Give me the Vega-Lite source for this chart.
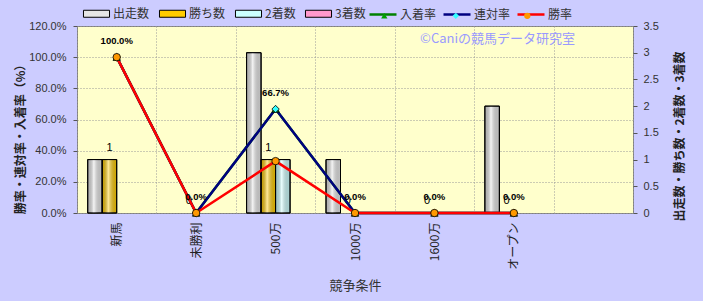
{
  "$schema": "https://vega.github.io/schema/vega-lite/v6.json",
  "width": 556,
  "height": 187,
  "autosize": {"type": "none"},
  "padding": {"left": 77, "top": 26, "right": 70, "bottom": 88},
  "background": "#CCCCFF",
  "config": {
    "font": "Noto Sans CJK JP",
    "view": {"fill": "#FFFFCC", "stroke": "#808080", "strokeWidth": 1},
    "axis": {"labelFont": "Liberation Sans", "labelFontSize": 11, "labelColor": "#333333", "titleColor": "#333333", "tickColor": "#555555", "gridColor": "#999999", "gridDash": [1, 2], "gridWidth": 1},
    "legend": {"labelFont": "Noto Sans CJK JP", "labelFontSize": 12, "labelColor": "#333333"}
  },
  "title": {"text": "©Caniの競馬データ研究室", "anchor": "end", "frame": "group", "orient": "top", "offset": 0, "dx": -58, "dy": 52, "fontSize": 13, "fontWeight": "normal", "color": "#9999FF", "baseline": "middle", "font": "Noto Sans CJK JP"},
  "datasets": {
    "counts": [
      {"cat": "新馬", "series": "出走数", "n": 1},
      {"cat": "新馬", "series": "勝ち数", "n": 1},
      {"cat": "新馬", "series": "2着数", "n": 0},
      {"cat": "新馬", "series": "3着数", "n": 0},
      {"cat": "未勝利", "series": "出走数", "n": 0},
      {"cat": "未勝利", "series": "勝ち数", "n": 0},
      {"cat": "未勝利", "series": "2着数", "n": 0},
      {"cat": "未勝利", "series": "3着数", "n": 0},
      {"cat": "500万", "series": "出走数", "n": 3},
      {"cat": "500万", "series": "勝ち数", "n": 1},
      {"cat": "500万", "series": "2着数", "n": 1},
      {"cat": "500万", "series": "3着数", "n": 0},
      {"cat": "1000万", "series": "出走数", "n": 1},
      {"cat": "1000万", "series": "勝ち数", "n": 0},
      {"cat": "1000万", "series": "2着数", "n": 0},
      {"cat": "1000万", "series": "3着数", "n": 0},
      {"cat": "1600万", "series": "出走数", "n": 0},
      {"cat": "1600万", "series": "勝ち数", "n": 0},
      {"cat": "1600万", "series": "2着数", "n": 0},
      {"cat": "1600万", "series": "3着数", "n": 0},
      {"cat": "オープン", "series": "出走数", "n": 2},
      {"cat": "オープン", "series": "勝ち数", "n": 0},
      {"cat": "オープン", "series": "2着数", "n": 0},
      {"cat": "オープン", "series": "3着数", "n": 0}
    ],
    "rates": [
      {"cat": "新馬", "series": "入着率", "rate": 1.0},
      {"cat": "未勝利", "series": "入着率", "rate": 0.0},
      {"cat": "500万", "series": "入着率", "rate": 0.667},
      {"cat": "1000万", "series": "入着率", "rate": 0.0},
      {"cat": "1600万", "series": "入着率", "rate": 0.0},
      {"cat": "オープン", "series": "入着率", "rate": 0.0},
      {"cat": "新馬", "series": "連対率", "rate": 1.0},
      {"cat": "未勝利", "series": "連対率", "rate": 0.0},
      {"cat": "500万", "series": "連対率", "rate": 0.667},
      {"cat": "1000万", "series": "連対率", "rate": 0.0},
      {"cat": "1600万", "series": "連対率", "rate": 0.0},
      {"cat": "オープン", "series": "連対率", "rate": 0.0},
      {"cat": "新馬", "series": "勝率", "rate": 1.0},
      {"cat": "未勝利", "series": "勝率", "rate": 0.0},
      {"cat": "500万", "series": "勝率", "rate": 0.333},
      {"cat": "1000万", "series": "勝率", "rate": 0.0},
      {"cat": "1600万", "series": "勝率", "rate": 0.0},
      {"cat": "オープン", "series": "勝率", "rate": 0.0}
    ]
  },
  "layer": [
    {
      "data": {"name": "counts"},
      "encoding": {
        "x": {"field": "cat", "type": "nominal", "scale": {"domain": ["新馬", "未勝利", "500万", "1000万", "1600万", "オープン", " "], "paddingInner": 0, "paddingOuter": 0},
          "axis": {"title": "競争条件", "titleFontSize": 13, "titleFontWeight": "normal", "titleY": 72, "titleBaseline": "middle", "labelAngle": -90, "labelFont": "Noto Sans CJK JP", "labelFontSize": 12, "labelColor": "#222222", "labelPadding": 9, "ticks": false, "domain": false, "grid": true, "tickBand": "extent"}},
        "xOffset": {"field": "series", "type": "nominal", "scale": {"domain": ["出走数", "勝ち数", "2着数", "3着数"], "paddingOuter": 0.74, "paddingInner": 0}},
        "y": {"field": "n", "type": "quantitative", "scale": {"domain": [0, 3.5], "nice": false},
          "axis": {"orient": "right", "values": [0, 0.5, 1, 1.5, 2, 2.5, 3, 3.5], "format": "~g", "grid": false, "domain": false, "tickSize": 4, "labelPadding": 6,
            "title": "出走数・勝ち数・2着数・3着数", "titleAngle": -90, "titleX": 46, "titleY": 110, "titleAlign": "center", "titleBaseline": "middle", "titleFontSize": 12, "titleFontWeight": "bold", "titleColor": "#222222"}}
      },
      "layer": [
        {
          "transform": [{"filter": "datum.n > 0"}],
          "mark": {"type": "bar", "stroke": "#000000", "strokeWidth": 1},
          "encoding": {
            "color": {"field": "series", "type": "nominal",
              "scale": {"domain": ["出走数", "勝ち数", "2着数", "3着数"], "range": ["#E6E6E6", "#FFCC00", "#CCFFFF", "#FF99CC"]},
              "legend": {"title": null, "orient": "none", "direction": "horizontal", "legendX": 12, "legendY": -20, "symbolType": "M-1.86,-0.5H1.86V0.5H-1.86Z", "symbolSize": 196, "symbolStrokeColor": "#000000", "symbolStrokeWidth": 1, "symbolOpacity": 1, "labelOffset": 9, "columnPadding": 7}}
          }
        },
        {
          "transform": [{"filter": "datum.n > 0"}],
          "mark": {"type": "bar", "stroke": "#000000", "strokeWidth": 1,
            "fill": {"gradient": "linear", "x1": 0, "y1": 0, "x2": 1, "y2": 0, "stops": [
              {"offset": 0, "color": "rgba(0,0,0,0.2)"},
              {"offset": 0.42, "color": "rgba(255,255,255,0.6)"},
              {"offset": 1, "color": "rgba(0,0,0,0.15)"}]}}
        },
        {
          "transform": [{"filter": "datum.series === '勝ち数'"}],
          "mark": {"type": "text", "font": "Liberation Sans", "fontSize": 11, "color": "#000000", "baseline": "middle", "dy": -12},
          "encoding": {"text": {"field": "n", "type": "quantitative", "format": "d"}}
        }
      ]
    },
    {
      "data": {"name": "rates"},
      "encoding": {
        "x": {"field": "cat", "type": "nominal", "scale": {"domain": ["新馬", "未勝利", "500万", "1000万", "1600万", "オープン", " "], "paddingInner": 0, "paddingOuter": 0}},
        "y": {"field": "rate", "type": "quantitative", "scale": {"domain": [0, 1.2], "nice": false},
          "axis": {"orient": "left", "values": [0, 0.2, 0.4, 0.6, 0.8, 1.0, 1.2], "format": ".1%", "grid": true, "domain": false, "tickSize": 4, "labelPadding": 7,
            "title": "勝率・連対率・入着率（%）", "titleAngle": -90, "titleX": -57, "titleY": 110, "titleAlign": "center", "titleBaseline": "middle", "titleFontSize": 12, "titleFontWeight": "bold", "titleColor": "#222222"}}
      },
      "layer": [
        {
          "mark": {"type": "line", "strokeWidth": 2.5},
          "encoding": {
            "order": {"value": null},
            "stroke": {"field": "series", "type": "nominal", "sort": ["入着率", "連対率", "勝率"],
              "scale": {"range": ["#008000", "#000080", "#FF0000"]},
              "legend": {"title": null, "orient": "none", "direction": "horizontal", "legendX": 291, "legendY": -26.5, "symbolType": "stroke", "symbolSize": 729, "symbolStrokeWidth": 2.5, "labelOffset": 2, "columnPadding": 1}}
          }
        },
        {
          "mark": {"type": "point", "filled": true, "stroke": "#000000", "strokeWidth": 0.8, "size": 55, "opacity": 1},
          "encoding": {
            "fill": {"field": "series", "type": "nominal",
              "scale": {"domain": ["入着率", "連対率", "勝率"], "range": ["#00A000", "#33FFFF", "#FF9900"]},
              "legend": {"title": null, "orient": "none", "direction": "horizontal", "legendX": 301.3, "legendY": -16.2, "symbolSize": 40, "symbolStrokeColor": "#000000", "symbolStrokeWidth": 0.8, "symbolOpacity": 1, "labelOffset": 0, "columnPadding": 59.5, "labelExpr": "''"}},
            "shape": {"field": "series", "type": "nominal",
              "scale": {"domain": ["入着率", "連対率", "勝率"], "range": ["triangle-up", "diamond", "circle"]},
              "legend": {"title": null, "orient": "none", "direction": "horizontal", "legendX": 301.3, "legendY": -16.2, "symbolSize": 40, "symbolStrokeColor": "#000000", "symbolStrokeWidth": 0.8, "symbolOpacity": 1, "labelOffset": 0, "columnPadding": 59.5, "labelExpr": "''"}}
          }
        },
        {
          "transform": [{"filter": "datum.series === '連対率'"}],
          "mark": {"type": "text", "font": "Liberation Sans", "fontSize": 9.5, "fontWeight": "bold", "color": "#000000", "baseline": "middle", "dy": -16},
          "encoding": {"text": {"field": "rate", "type": "quantitative", "format": ".1%"}}
        }
      ]
    }
  ],
  "resolve": {"scale": {"y": "independent"}}
}
